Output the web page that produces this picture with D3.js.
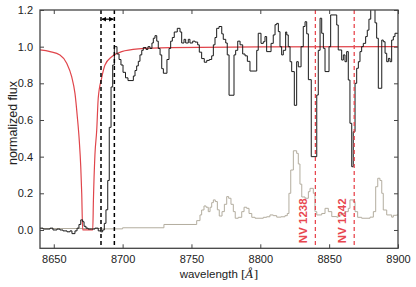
<!DOCTYPE html>
<html>

<head>
    <script src="https://d3js.org/d3.v7.min.js"></script>
    <style>
        body { margin: 0; background: white; }
        text { font-family: "Liberation Sans", Arial, sans-serif; fill: #222; }
    </style>
</head>

<body>
    <div id="chart"></div>

    <script>
        // observed spectrum (bin start wavelength, normalized flux)
        var specWave = [8640.0, 8642.2, 8647.3, 8649.4, 8652.3, 8654.5, 8656.7, 8659.6, 8661.8, 8663.2,
            8665.4, 8666.9, 8668.3, 8669.6, 8671.0, 8672.0, 8673.4, 8674.9, 8677.5, 8679.9,
            8682.3, 8684.1, 8685.5, 8686.7, 8687.9, 8689.2, 8690.3, 8691.6, 8692.8, 8694.0,
            8695.9, 8697.4, 8698.8, 8700.3, 8702.1, 8703.9, 8707.8, 8709.0, 8710.2, 8711.4,
            8712.6, 8713.9, 8715.0, 8717.0, 8718.4, 8719.9, 8721.3, 8722.3, 8723.5, 8724.8,
            8725.9, 8727.2, 8728.4, 8729.6, 8732.2, 8733.7, 8734.9, 8736.1, 8737.5, 8739.7,
            8741.7, 8742.9, 8744.6, 8745.8, 8747.7, 8748.9, 8750.9, 8752.6, 8754.5, 8755.7,
            8757.4, 8759.3, 8761.1, 8763.0, 8764.7, 8765.9, 8767.1, 8768.3, 8770.0, 8772.0,
            8773.1, 8774.9, 8776.0, 8777.3, 8780.9, 8782.1, 8783.6, 8785.3, 8787.2, 8788.9,
            8790.6, 8792.5, 8797.4, 8798.5, 8800.5, 8802.2, 8803.4, 8804.6, 8807.8, 8809.4,
            8810.7, 8811.9, 8813.1, 8814.3, 8815.5, 8816.7, 8818.4, 8819.2, 8820.3, 8821.6,
            8822.8, 8824.7, 8826.4, 8827.6, 8829.6, 8831.2, 8832.5, 8833.7, 8834.9, 8837.0,
            8841.0, 8842.1, 8843.4, 8844.6, 8845.8, 8847.0, 8849.9, 8851.1, 8855.5, 8856.6,
            8859.1, 8860.3, 8861.5, 8862.7, 8863.9, 8865.1, 8866.4, 8867.5, 8868.8, 8870.0,
            8871.2, 8872.4, 8873.6, 8874.8, 8876.5, 8877.7, 8878.9, 8880.2, 8883.3, 8884.5,
            8885.7, 8888.2, 8889.3, 8890.6, 8891.8, 8893.0, 8894.2, 8895.4, 8896.6, 8897.8,
            8900.0];
        var specFlux = [0.01, 0.005, 0.01, 0.0, 0.005, 0.0, -0.005, -0.01, -0.005, -0.02,
            -0.005, 0.01, 0.03, 0.055, 0.045, 0.02, 0.01, 0.005, 0.005, 0.01,
            -0.005, -0.01, 0.0, 0.036, 0.11, 0.27, 0.56, 0.78, 0.9, 1.0,
            0.96, 0.93, 0.9, 0.86, 0.83, 0.815, 0.84, 0.87, 0.895, 0.92,
            0.955, 0.98, 0.995, 0.985, 1.0, 0.99, 1.02, 1.046, 1.06, 1.03,
            0.99, 0.955, 0.88, 0.855, 0.93, 0.99, 1.03, 1.05, 1.08, 1.1,
            1.08, 1.02, 1.04, 1.02, 1.04, 1.02, 1.03, 1.025, 1.01, 0.97,
            0.935, 0.915, 0.925, 0.93, 0.95, 1.01, 1.05, 1.1, 1.11, 1.07,
            1.04, 1.02, 0.955, 0.735, 0.955, 0.98, 1.03, 1.01, 0.96, 0.95,
            0.92, 0.867, 0.98, 1.073, 1.018, 1.027, 1.055, 0.973, 1.018, 1.064,
            1.12, 1.127, 1.082, 1.0, 0.955, 0.98, 1.08, 1.064, 1.0, 0.918,
            0.864, 0.68, 0.918, 0.89, 1.0, 1.11, 1.136, 1.07, 0.82, 0.40,
            0.736, 0.98, 1.155, 1.073, 0.991, 0.864, 1.0, 1.173, 1.118, 0.982,
            0.927, 0.955, 0.918, 0.973, 0.818, 0.582, 0.345, 0.536, 0.8, 0.882,
            0.918, 0.973, 1.0, 1.018, 1.055, 1.09, 1.15, 1.25, 1.13, 1.046,
            0.773, 1.036, 1.027, 0.964, 0.918, 0.936, 0.918, 1.036, 1.055, 1.073,
            1.073];

        // error spectrum
        var errWave = [8640.0, 8684.0, 8700.0, 8730.0, 8753.8, 8756.2, 8757.4, 8759.1, 8760.6, 8762.2,
            8763.5, 8764.7, 8765.9, 8767.3, 8768.8, 8770.2, 8772.2, 8773.9, 8775.6, 8777.0,
            8778.7, 8780.4, 8781.8, 8784.0, 8786.5, 8788.2, 8790.1, 8791.8, 8793.8, 8796.2,
            8802.2, 8804.6, 8807.0, 8809.4, 8811.9, 8815.0, 8817.9, 8819.6, 8820.8, 8822.1,
            8824.0, 8826.4, 8827.6, 8828.8, 8830.1, 8832.5, 8834.9, 8836.1, 8838.5, 8839.7,
            8841.0, 8844.6, 8847.0, 8849.4, 8851.9, 8855.5, 8856.6, 8859.1, 8861.5, 8863.9,
            8865.1, 8867.5, 8868.8, 8870.7, 8873.6, 8879.7, 8882.1, 8883.8, 8885.3, 8886.9,
            8888.2, 8889.3, 8891.8, 8895.4, 8896.6, 8899.0, 8900.0];
        var errFlux = [0.008, 0.006, 0.012, 0.03, 0.051, 0.082, 0.109, 0.131, 0.124, 0.1,
            0.124, 0.149, 0.164, 0.155, 0.11, 0.076, 0.1, 0.14, 0.182, 0.173,
            0.14, 0.1, 0.064, 0.069, 0.1, 0.124, 0.118, 0.09, 0.069, 0.064,
            0.069, 0.072, 0.082, 0.078, 0.07, 0.072, 0.078, 0.09, 0.2, 0.327,
            0.432, 0.418, 0.36, 0.25, 0.18, 0.173, 0.209, 0.227, 0.2, 0.1,
            0.082, 0.09, 0.118, 0.1, 0.073, 0.07, 0.082, 0.09, 0.1, 0.118,
            0.164, 0.155, 0.1, 0.069, 0.064, 0.07, 0.1, 0.236, 0.282, 0.27,
            0.2, 0.109, 0.082, 0.07, 0.08, 0.082, 0.082];

        // damped absorption model
        var modelWave = [8640.0, 8647.3, 8654.5, 8659.4, 8663.0, 8665.4, 8667.1, 8668.5, 8669.6, 8670.3,
            8671.0, 8678.3, 8678.8, 8679.9, 8681.2, 8682.3, 8684.8, 8687.2, 8692.1, 8699.3,
            8711.4, 8734.4, 8799.8, 8900.0];
        var modelFlux = [0.982, 0.973, 0.955, 0.91, 0.836, 0.745, 0.618, 0.49, 0.345, 0.2,
            0.0, 0.0, 0.164, 0.41, 0.545, 0.72, 0.83, 0.9, 0.945, 0.973,
            0.988, 0.995, 0.999, 1.0];

        var windowLines = [8684.3, 8694.0];
        var nvLines = [8840.0, 8868.2];
        var nvLabels = ["NV 1238", "NV 1242"];
        var xTicks = [8650, 8700, 8750, 8800, 8850, 8900];
        var yTicks = [0.0, 0.2, 0.4, 0.6, 0.8, 1.0, 1.2];

        var W = 416, H = 287;
        var margin = { top: 10, right: 18, bottom: 38.7, left: 40 };

        var svg = d3.select("#chart").append("svg")
            .attr("width", W).attr("height", H);

        var x = d3.scaleLinear().domain([8640, 8900]).range([margin.left, W - margin.right]);
        var y = d3.scaleLinear().domain([-0.1, 1.2]).range([H - margin.bottom, margin.top]);

        svg.append("clipPath").attr("id", "clip")
            .append("rect")
            .attr("x", x.range()[0]).attr("y", y.range()[1])
            .attr("width", x.range()[1] - x.range()[0])
            .attr("height", y.range()[0] - y.range()[1]);

        var plot = svg.append("g").attr("clip-path", "url(#clip)");

        var stepLine = d3.line().x(d => x(d[0])).y(d => y(d[1])).curve(d3.curveStepAfter);

        // error spectrum
        plot.append("path")
            .datum(d3.zip(errWave, errFlux))
            .attr("fill", "none")
            .attr("stroke", "#b3ad9f")
            .attr("stroke-width", 1)
            .attr("d", stepLine);

        // model
        plot.append("path")
            .datum(d3.zip(modelWave, modelFlux))
            .attr("fill", "none")
            .attr("stroke", "#e0454b")
            .attr("stroke-width", 1.2)
            .attr("d", d3.line().x(d => x(d[0])).y(d => y(d[1])).curve(d3.curveMonotoneX));

        // observed spectrum
        plot.append("path")
            .datum(d3.zip(specWave, specFlux))
            .attr("fill", "none")
            .attr("stroke", "#1a1a1a")
            .attr("stroke-width", 1)
            .attr("d", stepLine);

        // NV lines
        plot.selectAll(".nv")
            .data(nvLines)
            .enter().append("line")
            .attr("x1", d => x(d)).attr("x2", d => x(d))
            .attr("y1", y(1.2)).attr("y2", y(-0.1))
            .attr("stroke", "#e8474f")
            .attr("stroke-width", 1.3)
            .attr("stroke-dasharray", "4,3");

        svg.selectAll(".nvlabel")
            .data(nvLines)
            .enter().append("text")
            .attr("transform", d => "translate(" + (x(d) - 12) + "," + y(0.05) + ") rotate(-90)")
            .attr("text-anchor", "middle")
            .attr("dominant-baseline", "central")
            .style("font-size", "11.5px")
            .style("font-weight", "bold")
            .style("fill", "#e8474f")
            .text((d, i) => nvLabels[i]);

        // integration window
        plot.selectAll(".win")
            .data(windowLines)
            .enter().append("line")
            .attr("x1", d => x(d)).attr("x2", d => x(d))
            .attr("y1", y(1.2)).attr("y2", y(-0.1))
            .attr("stroke", "#000")
            .attr("stroke-width", 1.5)
            .attr("stroke-dasharray", "4,3");

        svg.append("defs").selectAll("marker")
            .data(["a-end", "a-start"])
            .enter().append("marker")
            .attr("id", d => d)
            .attr("viewBox", "0 0 10 10")
            .attr("refX", 9).attr("refY", 5)
            .attr("markerWidth", 4).attr("markerHeight", 4)
            .attr("orient", d => d === "a-end" ? "auto" : "auto-start-reverse")
            .append("path")
            .attr("d", "M0,0L10,5L0,10z")
            .attr("fill", "#000");

        svg.append("line")
            .attr("x1", x(windowLines[0]) + 1).attr("x2", x(windowLines[1]) - 1)
            .attr("y1", y(1.15)).attr("y2", y(1.15))
            .attr("stroke", "#000").attr("stroke-width", 1.2)
            .attr("marker-end", "url(#a-end)")
            .attr("marker-start", "url(#a-start)");

        // axes with inward ticks
        var tick = 4;
        svg.append("g")
            .attr("transform", "translate(0," + y(-0.1) + ")")
            .call(d3.axisBottom(x).tickValues(xTicks).tickSizeInner(-tick).tickSizeOuter(0).tickPadding(7).tickFormat(d3.format("d")));
        svg.append("g")
            .attr("transform", "translate(0," + y(1.2) + ")")
            .call(d3.axisTop(x).tickValues(xTicks).tickSizeInner(-tick).tickSizeOuter(0).tickFormat(""));
        svg.append("g")
            .attr("transform", "translate(" + x(8640) + ",0)")
            .call(d3.axisLeft(y).tickValues(yTicks).tickSizeInner(-tick).tickSizeOuter(0).tickPadding(7).tickFormat(d3.format(".1f")));
        svg.append("g")
            .attr("transform", "translate(" + x(8900) + ",0)")
            .call(d3.axisRight(y).tickValues(yTicks).tickSizeInner(-tick).tickSizeOuter(0).tickFormat(""));

        svg.selectAll(".tick line").attr("stroke", "#444").attr("stroke-width", 1);
        svg.selectAll(".domain").remove();
        svg.selectAll(".tick text").style("font-size", "11px").style("fill", "#222")
            .style("font-family", "'Liberation Sans', Arial, sans-serif");

        svg.append("rect")
            .attr("x", x(8640)).attr("y", y(1.2))
            .attr("width", x(8900) - x(8640))
            .attr("height", y(-0.1) - y(1.2))
            .attr("fill", "none")
            .attr("stroke", "#444")
            .attr("stroke-width", 1.3);

        // axis labels
        var xl = svg.append("text")
            .attr("x", (x(8640) + x(8900)) / 2)
            .attr("y", 278)
            .attr("text-anchor", "middle")
            .style("font-size", "11.5px");
        xl.append("tspan").text("wavelength ");
        xl.append("tspan").style("font-family", "'DejaVu Serif', serif").text("[");
        xl.append("tspan").style("font-family", "'DejaVu Serif', serif").style("font-style", "italic").text("Å");
        xl.append("tspan").style("font-family", "'DejaVu Serif', serif").text("]");

        svg.append("text")
            .attr("transform", "translate(13,123) rotate(-90)")
            .attr("text-anchor", "middle")
            .attr("dominant-baseline", "central")
            .style("font-size", "12.5px")
            .text("normalized flux");
    </script>
</body>

</html>
